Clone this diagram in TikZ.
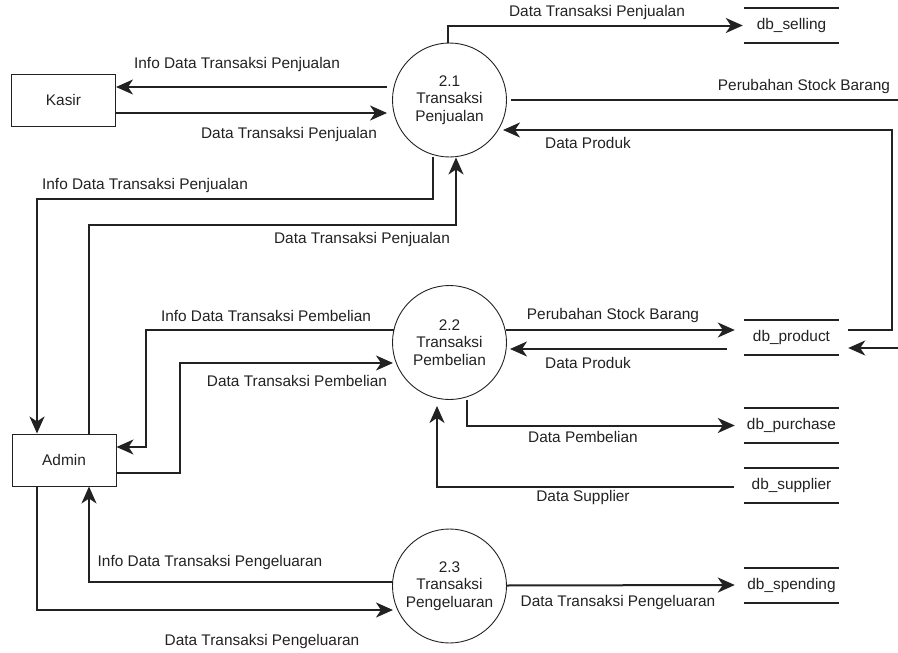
\documentclass[tikz,border=0pt]{standalone}
\usepackage{fontspec}
\setmainfont{Liberation Sans}
\usetikzlibrary{arrows.meta}
\definecolor{ink}{HTML}{222222}
\tikzset{
  flow/.style={line width=2pt, draw=ink},
  arr/.style={flow, -{Stealth[length=17pt,width=15pt,inset=5pt]}},
  proc/.style={circle, draw=ink, line width=0.9pt, minimum size=114pt, inner sep=0pt, align=center, text=ink},
  ent/.style={rectangle, draw=ink, line width=1pt, minimum width=104pt, minimum height=52pt, inner sep=0pt, text=ink},
  store/.style={rectangle, minimum width=95pt, minimum height=35pt, inner sep=0pt, text=ink},
  storeline/.style={line width=2pt, draw=ink},
  lbl/.style={text=ink, inner sep=0pt}
}
\begin{document}
\begin{tikzpicture}[x=1pt,y=-1pt,font=\fontsize{15.4}{17.5}\selectfont]
\useasboundingbox (0,0) rectangle (898,653);
% nodes
\node[proc] (p1) at (449.5,100) {2.1\\Transaksi\\Penjualan};
\node[proc] (p2) at (449.5,342.5) {2.2\\Transaksi\\Pembelian};
\node[proc] (p3) at (449.5,586) {2.3\\Transaksi\\Pengeluaran};
\node[ent] (kasir) at (63.5,100) {Kasir};
\node[ent] (admin) at (64,460) {Admin};
\node[store] (s1) at (791.5,25.5) {db\_selling};
\node[store] (s2) at (791.5,337.5) {db\_product};
\node[store] (s3) at (791.5,425.5) {db\_purchase};
\node[store] (s4) at (791.5,485.5) {db\_supplier};
\node[store] (s5) at (791.5,585.5) {db\_spending};
\foreach \s in {s1,s2,s3,s4,s5}{
  \draw[storeline] (\s.north west) -- (\s.north east) (\s.south west) -- (\s.south east);
}
% free ends and bends
\coordinate (eR1) at (898,100);
\coordinate (eR2) at (898,348);
\coordinate (b1) at (37,199);
\coordinate (b2) at (456,225);
\coordinate (b3) at (146,447);
\coordinate (b4) at (180,363);
% Kasir flows
\draw[arr] ([xshift=-5pt,yshift=13pt]p1.west) -- ([yshift=13pt]kasir.east)
  node[lbl] at (237,65) {Info Data Transaksi Penjualan};
\draw[arr] ([yshift=-13pt]kasir.east) -- ([xshift=-5pt,yshift=-13pt]p1.west)
  node[lbl] at (289,135) {Data Transaksi Penjualan};
% 2.1 outputs
\draw[arr] ([xshift=-1.5pt]p1.north) |- ([xshift=-1pt]s1.west)
  node[lbl] at (597,13) {Data Transaksi Penjualan};
\draw[flow] ([xshift=4pt]p1.east) -- (eR1)
  node[lbl] at (804,87) {Perubahan Stock Barang};
\draw[arr] ([xshift=9pt,yshift=7.5pt]s2.east) -- ++(44,0) |- ([xshift=53.5pt,yshift=-30pt]p1.center)
  node[lbl] at (588,143) {Data Produk};
\draw[arr] (eR2) -- ([xshift=9pt,yshift=-10.5pt]s2.east);
% 2.1 <-> Admin
\draw[arr] ([xshift=-16.5pt]p1.south) |- (b1) -- ([xshift=-27pt]admin.north)
  node[lbl] at (145,186) {Info Data Transaksi Penjualan};
\draw[arr] ([xshift=25pt]admin.north) |- (b2) -- ([xshift=6.5pt]p1.south)
  node[lbl] at (362,240) {Data Transaksi Penjualan};
% 2.2 <-> Admin
\draw[arr] ([xshift=-56pt,yshift=12.5pt]p2.center) -| (b3) -- (admin.east |- b3)
  node[lbl] at (266,316) {Info Data Transaksi Pembelian};
\draw[arr] ([yshift=-13pt]admin.east) -| (b4) -- ([xshift=-56.5pt,yshift=-20.5pt]p2.center)
  node[lbl] at (297,381) {Data Transaksi Pembelian};
% 2.2 <-> stores
\draw[arr] ([xshift=56.5pt,yshift=12.5pt]p2.center) -- ([xshift=-9pt,yshift=7.5pt]s2.west)
  node[lbl] at (613,316) {Perubahan Stock Barang};
\draw[arr] ([xshift=-17pt,yshift=-11.5pt]s2.west) -- ([xshift=60.5pt,yshift=-6.5pt]p2.center)
  node[lbl] at (588,363) {Data Produk};
\draw[arr] ([xshift=17.5pt]p2.south) |- ([xshift=-9pt]s3.west)
  node[lbl] at (583,437) {Data Pembelian};
\draw[arr] ([xshift=-10pt,yshift=-1.5pt]s4.west) -| ([xshift=-12.5pt,yshift=-6pt]p2.south)
  node[lbl] at (583,498) {Data Supplier};
% 2.3
\draw[arr] ([xshift=-56.5pt,yshift=4pt]p3.center) -| ([xshift=25pt]admin.south)
  node[lbl] at (210,563) {Info Data Transaksi Pengeluaran};
\draw[arr] ([xshift=-27pt]admin.south) |- ([xshift=-56.5pt,yshift=-24pt]p3.center)
  node[lbl] at (262,642) {Data Transaksi Pengeluaran};
\draw[arr] ([yshift=0.5pt]p3.east) -- ([xshift=-9pt,yshift=0.5pt]s5.west)
  node[lbl] at (618,603) {Data Transaksi Pengeluaran};
\end{tikzpicture}
\end{document}
